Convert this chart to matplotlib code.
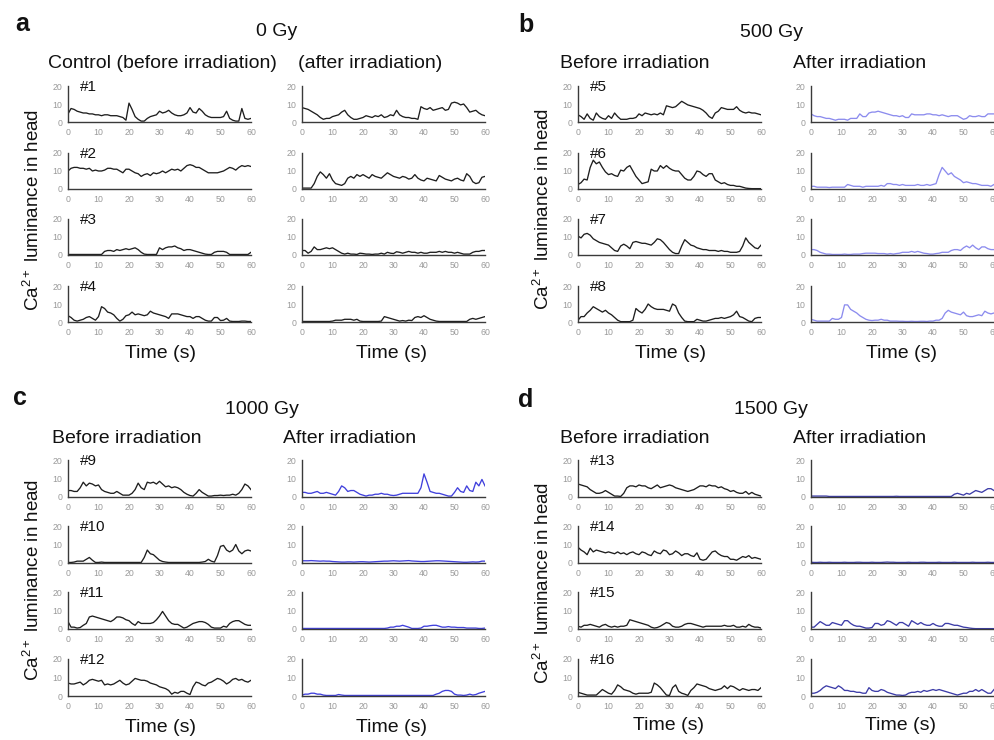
import matplotlib
matplotlib.use('Agg')
import matplotlib.pyplot as plt

plt.rcParams['font.family'] = ['Liberation Sans', 'DejaVu Sans']
plt.rcParams['mathtext.fontset'] = 'custom'
plt.rcParams['mathtext.rm'] = 'Liberation Sans'
plt.rcParams['mathtext.it'] = 'Liberation Sans:italic'
plt.rcParams['mathtext.default'] = 'regular'

# ---------------- data ----------------
time_s = list(range(61))
x_ticks = [0, 10, 20, 30, 40, 50, 60]
y_ticks = [0, 10, 20]

dose_titles = ['0 Gy', '500 Gy', '1000 Gy', '1500 Gy']
panel_letters = ['a', 'b', 'c', 'd']
before_titles = ['Control (before irradiation)', 'Before irradiation', 'Before irradiation', 'Before irradiation']
after_titles = ['(after irradiation)', 'After irradiation', 'After irradiation', 'After irradiation']
worm_ids = [['#1', '#2', '#3', '#4'], ['#5', '#6', '#7', '#8'],
            ['#9', '#10', '#11', '#12'], ['#13', '#14', '#15', '#16']]

n1_before = [4.5, 7.5, 7, 6, 5.5, 5, 5, 4.5, 4.5, 4,
             4, 3.5, 4, 4, 3.5, 3.5, 3.5, 3, 2.5, 1,
             10.5, 7, 3, 1.5, 0.5, 0.5, 2, 3, 3.5, 4,
             6, 5, 5.5, 6.5, 5, 4, 3.5, 3.5, 4, 5,
             8, 5.5, 5, 7.5, 6, 4, 3, 2.5, 2.5, 2.5,
             2.5, 3, 6, 2, 1, 0.5, 0.5, 7.5, 2, 1.5, 2]
n1_after = [8, 7.5, 7, 6, 5, 4, 2.5, 1.5, 2, 2,
            3, 3.5, 4, 5.5, 6.5, 4, 2.5, 1.5, 1.5, 2,
            2.5, 3.5, 3, 2.5, 3.5, 3, 4, 2.5, 3, 4,
            3.5, 6.5, 4, 3, 2.5, 2.5, 2, 2, 1.5, 8.5,
            7.5, 7, 8, 6.5, 7, 7.5, 8, 6.5, 7, 10.5,
            11, 10.5, 9.5, 10, 8, 5.5, 6, 6.5, 5, 4, 3.5]
n2_before = [10, 11.5, 12, 12, 11.5, 11.5, 11, 11.5, 10, 10.5,
             10, 10, 10.5, 11.5, 11.5, 11, 11, 10, 9, 11,
             11, 10, 9, 8.5, 7, 8, 8.5, 7.5, 9, 8.5,
             9, 10, 9, 10, 11, 10.5, 11, 10, 11.5, 13,
             13.5, 13, 12, 12, 11, 10, 9, 9, 9, 9,
             9.5, 10, 11, 12, 11.5, 10.5, 12, 13, 12.5, 13, 12.5]
n2_after = [0.5, 0.5, 0.5, 0.5, 3, 7, 9.5, 8, 6, 8.5,
            5, 3, 2.5, 2, 3, 6, 7, 6, 8, 7,
            8, 7, 6, 8, 7, 6.5, 6, 7.5, 9, 8,
            7, 6.5, 6, 7, 6.5, 5.5, 6, 8, 6, 5,
            4.5, 6, 5.5, 5, 4.5, 7.5, 6.5, 5.5, 5, 4.5,
            5.5, 6, 5, 4.5, 8.5, 7, 4, 3, 3.5, 6.5, 7]
n3_before = [0.3, 0.3, 0.3, 0.3, 0.3, 0.3, 0.3, 0.3, 0.3, 0.3,
             0.3, 0.3, 2, 2.5, 2.5, 2, 3, 2.5, 3, 3.5,
             3, 3.5, 4, 3, 1.5, 0.5, 0.3, 0.3, 0.3, 0.3,
             4, 3, 4, 4.5, 4.5, 5, 4, 3.5, 2.5, 3,
             3, 2.5, 2, 1.5, 1, 0.5, 0.3, 0.3, 1.5, 2,
             2, 2, 1.5, 0.3, 0.3, 0.3, 0.3, 0.3, 0.3, 0.3, 1.5]
n3_after = [2.5, 2.5, 1, 2, 4.5, 3, 3, 3.5, 4, 3.5,
            4, 3, 2, 1, 0.5, 1, 0.5, 0.5, 0.3, 1,
            0.8, 0.5, 0.5, 0.3, 0.5, 0.5, 1, 0.5, 1.5, 1,
            0.8, 1.8, 1.5, 1, 1.5, 2, 1.5, 1.5, 1, 1.5,
            1, 1, 1.5, 1.5, 1.5, 2, 1.5, 2, 1.5, 1.5,
            1, 1.5, 1, 0.5, 0.5, 0.5, 1.5, 2, 2, 2.5, 2.5]
n4_before = [3.5, 2.5, 1, 0.5, 1, 1.5, 2.5, 3, 2, 1,
             3, 8.5, 7.5, 5.5, 5, 4, 2, 0.5, 1.5, 3.5,
             4, 5.5, 4, 4.5, 4, 3.5, 4, 6, 5, 4.5,
             4, 3.5, 3, 2, 4.5, 4.5, 4.5, 4, 3.5, 3,
             3, 2, 3, 3, 2, 1, 0.5, 0.5, 2.5, 2.5,
             0.8, 1, 2, 0.5, 0.3, 0.3, 0.3, 0.5, 0.5, 0.3, 0.3]
n4_after = [0.3, 0.3, 0.3, 0.3, 0.3, 0.3, 0.3, 0.3, 0.3, 0.3,
            0.5, 1, 1, 1, 1.5, 1.5, 1.5, 1, 1.5, 0.5,
            0.3, 0.3, 0.3, 0.3, 0.3, 0.3, 0.5, 3, 2.5, 2,
            1.5, 1, 0.5, 0.8, 0.5, 1, 0.8, 2.5, 3, 2.5,
            3.5, 2.5, 1.5, 1, 0.5, 0.3, 0.3, 0.3, 0.3, 0.3,
            0.3, 0.3, 0.3, 0.3, 0.3, 1.5, 2, 1.5, 2, 2.5, 3]
n5_before = [4, 3, 1.5, 4.5, 2, 1, 5, 3, 2, 1.5,
             3.5, 2, 5, 3, 1.5, 1.5, 1.5, 2, 2, 2.5,
             4.5, 3.5, 5, 4.5, 4, 4.5, 4, 5, 4, 9,
             8.5, 8, 8.5, 10, 11.5, 10.5, 9.5, 9, 8.5, 8,
             7.5, 6.5, 5, 3, 2, 5, 6, 8, 7.5, 7,
             7, 7, 8.5, 6.5, 5.5, 5, 5.5, 5, 5, 4.5, 4]
n5_after = [4.5, 3.5, 3, 3, 2.5, 2, 2, 1.5, 1, 1.5,
            1.5, 1.5, 1, 2, 2, 2, 4.5, 3, 3, 5,
            5.5, 5.5, 6, 5.5, 5, 4.5, 4, 3.5, 3.5, 3,
            3.5, 2.5, 2.5, 4.5, 4, 4, 4, 4, 4.5, 4.5,
            4, 4, 3.5, 4, 3.5, 3, 3.5, 3.5, 3.5, 2.5,
            1.5, 2, 3.5, 3, 3, 3.5, 3, 3, 4.5, 4.5, 4.5]
n6_before = [2.5, 3.5, 5.5, 5, 12, 16, 14, 15, 12, 9.5,
             8, 8.5, 7.5, 7, 10.5, 10, 12, 13, 10, 7,
             5, 3, 3.5, 4, 11, 10, 10, 13, 11.5, 13,
             11.5, 10.5, 10, 10, 8, 6, 5, 5, 7, 10,
             9.5, 8, 7, 8.5, 8.5, 5, 4, 3, 3.5, 2.5,
             2, 2, 1.5, 1.5, 1, 0.5, 0.3, 0.2, 0.2, 0.2, 0.2]
n6_after = [1.5, 1.5, 1, 1, 1, 1, 0.8, 1, 1, 1,
            1, 1, 2.5, 2, 1.5, 1.5, 1.5, 1, 1.5, 1.5,
            1.5, 1.5, 1.5, 2, 1.5, 3, 3, 2.5, 2.5, 2,
            2.5, 2, 2, 2, 2, 2.5, 2, 2, 2.5, 2,
            2.5, 3, 8, 12, 10, 8, 9, 7, 6, 5,
            3.5, 4, 3.5, 3, 3, 2.5, 2, 2, 2, 1.5, 2.5]
n7_before = [10.5, 9.5, 11.5, 12, 11, 9, 8, 7, 6.5, 6,
             5.5, 4, 2.5, 2, 5, 6, 5, 3.5, 7, 7.5,
             7, 6.5, 6.5, 6, 5.5, 7, 9, 8.5, 7, 5,
             3, 1.5, 0.8, 0.8, 5, 8.5, 7, 5.5, 5, 4,
             3.5, 3, 3, 2.5, 2.5, 2.5, 2, 2.5, 2, 2,
             1.5, 1.5, 1.5, 2, 5, 9.5, 7, 5.5, 4, 3.5, 5.5]
n7_after = [3, 3, 2.5, 1.5, 1, 0.5, 0.5, 0.3, 0.3, 0.3,
            0.3, 0.5, 0.3, 0.3, 0.5, 0.5, 0.5, 0.8, 1, 1,
            1, 1, 0.8, 0.8, 0.8, 0.5, 0.8, 0.5, 0.8, 1,
            1.5, 1.5, 1.5, 2, 1.5, 2, 1.5, 1, 0.8, 0.5,
            0.5, 0.8, 1, 1.5, 1.5, 1.5, 2.5, 3, 3, 2.5,
            4, 5, 4, 5.5, 4, 3, 4.5, 4.5, 3.5, 3, 3]
n8_before = [1, 3, 3, 5, 6.5, 8.5, 7.5, 6.5, 5.5, 6.5,
             5, 4, 2.5, 1, 0.2, 0.2, 0.2, 0.2, 1, 7.5,
             6, 5, 7, 10, 8.5, 7.5, 7, 7, 7, 6.5,
             6, 10, 9, 5, 2.5, 0.5, 0.2, 0.2, 0.2, 1.5,
             1, 0.5, 0.5, 1, 1.5, 2, 2, 2.5, 2, 2.5,
             3, 4, 6, 3, 2.5, 1.5, 0.5, 0.2, 2, 2.5, 2.5]
n8_after = [1.5, 1, 0.5, 0.5, 0.5, 0.5, 0.5, 2, 1.5, 1.5,
            2.5, 9.5, 9.5, 7, 6, 5, 3.5, 2.5, 1.5, 1,
            0.8, 1, 1, 1.5, 1, 1, 0.5, 0.5, 0.5, 0.4,
            0.4, 0.3, 0.3, 0.4, 0.3, 0.3, 0.4, 0.4, 0.3, 0.5,
            0.5, 1, 1, 2, 5, 6.5, 5.5, 5, 4.5, 4,
            5.5, 3.5, 3, 3, 3.5, 4, 3.5, 6, 5, 4.5, 5]
n9_before = [3.5, 3.5, 3, 3, 5, 8, 6, 7.5, 7, 6,
             6.5, 4, 3, 2.5, 2, 2, 3, 2, 1, 1,
             1, 2, 4, 7.5, 5, 4, 8, 7.5, 8, 7,
             8.5, 7, 5.5, 6, 5, 5.5, 5, 4, 2.5, 1.5,
             0.8, 0.5, 2, 4, 2.5, 1.5, 0.5, 0.5, 0.8, 0.8,
             1, 0.8, 1, 1, 1.5, 1, 2, 4, 7, 6, 4]
n9_after = [2.5, 2.5, 2, 2, 2.5, 3, 2, 2, 2.5, 2,
            1.5, 1, 3, 6, 5, 3, 3.5, 3.5, 2.5, 1.5,
            1, 0.5, 1, 1, 1.5, 1.5, 2, 1.5, 1.5, 1,
            0.8, 1, 1.5, 2, 2, 2, 2, 2, 2, 5,
            12.5, 8, 3, 2.5, 2, 2, 1.5, 1, 0.5, 0.5,
            2.5, 5, 3, 2.5, 6, 3.5, 3, 8, 6, 9.5, 6]
n10_before = [0.3, 0.3, 0.5, 1, 1, 1, 2, 3, 1.5, 0.3,
              0.3, 0.5, 0.3, 0.3, 0.3, 0.3, 0.3, 0.3, 0.3, 0.3,
              0.3, 0.3, 0.3, 0.3, 0.3, 3, 7, 5, 4.5, 3,
              1.5, 0.8, 0.5, 0.3, 0.3, 0.3, 0.3, 0.3, 0.3, 0.3,
              0.3, 0.3, 0.3, 0.3, 0.5, 0.8, 2, 1, 0.5, 4,
              9, 9.5, 7, 6, 7, 10, 6.5, 5, 6.5, 7, 6.5]
n10_after = [1.2, 1.2, 1.2, 1.3, 1.2, 1.1, 1.0, 1.1, 1.0, 1.0,
             0.8, 0.7, 0.6, 0.5, 0.5, 0.6, 0.6, 0.5, 0.6, 0.7,
             0.7, 0.6, 0.5, 0.6, 0.7, 0.8, 0.9, 1.0, 1.0, 1.1,
             1.2, 1.1, 1.0, 1.1, 1.2, 1.3, 1.1, 1.0, 0.9, 0.8,
             0.8, 0.9, 1.0, 1.1, 1.2, 1.2, 1.1, 1.0, 0.9, 0.8,
             0.7, 0.6, 0.5, 0.4, 0.4, 0.5, 0.6, 0.5, 0.6, 1.0, 1.0]
n11_before = [4, 1, 1, 0.5, 0.8, 2, 3, 6.5, 7, 6.5,
              6, 5.5, 5, 4.5, 4, 5, 6.5, 6.5, 6, 5,
              4.5, 3, 2, 4, 3, 3, 3, 3, 3.5, 5,
              7, 9.5, 7, 4.5, 3, 2.5, 2.5, 1.5, 0.5, 1,
              2, 3, 3.5, 4, 4, 3.5, 2.5, 1, 0.5, 0.5,
              0.5, 1.5, 1, 3, 4, 4.5, 4.5, 3.5, 2.5, 2, 2]
n11_after = [0.3, 0.3, 0.3, 0.3, 0.3, 0.3, 0.3, 0.3, 0.3, 0.3,
             0.3, 0.3, 0.3, 0.3, 0.3, 0.3, 0.3, 0.3, 0.3, 0.3,
             0.3, 0.3, 0.3, 0.3, 0.3, 0.3, 0.3, 0.3, 0.5, 1,
             1, 1.5, 1.5, 2, 1.5, 1, 0.3, 0.3, 0.3, 0.5,
             1.5, 1.5, 1.8, 2, 2, 1.5, 1, 1, 1.3, 1,
             1, 0.8, 0.8, 0.8, 0.5, 0.5, 0.5, 0.5, 0.3, 0.3, 0.5]
n12_before = [7, 6.5, 6.5, 7, 7.5, 6, 7, 8.5, 9, 8.5,
              8, 8.5, 6, 6.5, 6, 6.5, 7.5, 8.5, 7, 6,
              6.5, 8, 9.5, 9, 8.5, 8.5, 8, 7, 6.5, 6,
              5, 4.5, 4, 3, 1, 2, 1.5, 2.5, 2.5, 1.5,
              0.8, 5, 7.5, 7, 6, 5.5, 7, 7.5, 8.5, 9.5,
              9, 8, 6.5, 7.5, 9, 9.5, 8.5, 9, 8, 7.5, 8.5]
n12_after = [0.5, 1, 1, 1.5, 1.5, 1, 1, 0.5, 0.3, 0.3,
             0.3, 0.3, 0.8, 0.5, 0.3, 0.3, 0.3, 0.3, 0.3, 0.3,
             0.3, 0.3, 0.3, 0.3, 0.3, 0.3, 0.3, 0.3, 0.3, 0.3,
             0.3, 0.3, 0.3, 0.3, 0.3, 0.3, 0.3, 0.3, 0.3, 0.3,
             0.3, 0.3, 0.3, 0.3, 1, 1.5, 2.5, 3, 3, 2.5,
             1, 0.5, 0.5, 0.3, 0.5, 1, 0.5, 0.8, 1.5, 2, 2.5]
n13_before = [7, 6.5, 6, 5.5, 4, 3, 2, 2, 2.5, 3.5,
              2.5, 1.5, 0.5, 0.5, 0.3, 2, 5, 6, 6, 5.5,
              6.5, 6, 6, 5, 4.5, 5.5, 6.5, 5, 5.5, 6,
              6.5, 6, 5, 4.5, 4, 3.5, 3, 3.5, 4, 5,
              6, 6, 5.5, 6.5, 6, 6, 5, 5.5, 4.5, 4,
              3, 3.5, 2.5, 2, 2, 3, 1.5, 2.5, 1.5, 1, 0.5]
n13_after = [0.5, 0.5, 0.5, 0.5, 0.5, 0.5, 0.3, 0.3, 0.3, 0.3,
             0.3, 0.3, 0.3, 0.3, 0.3, 0.3, 0.3, 0.3, 0.3, 0.3,
             0.3, 0.3, 0.3, 0.3, 0.3, 0.3, 0.3, 0.3, 0.4, 0.3,
             0.3, 0.3, 0.3, 0.3, 0.3, 0.3, 0.3, 0.3, 0.3, 0.3,
             0.3, 0.3, 0.3, 0.3, 0.3, 0.3, 0.3, 1.5, 2, 1.5,
             1, 2, 1.5, 2.5, 3.5, 3, 2.5, 3.5, 4.5, 4.5, 3.5]
n14_before = [8.5, 7, 6, 4.5, 8, 6, 7, 6.5, 6, 5.5,
              6, 5.5, 5, 6, 5, 5.5, 4.5, 5.5, 6, 5,
              4.5, 6, 5.5, 4.5, 4, 6.5, 5.5, 5, 7, 6.5,
              4.5, 5, 6.5, 5.5, 4, 5, 5, 4, 3.5, 5.5,
              2, 1.5, 2, 4, 6, 6.5, 5, 4, 3.5, 3.5,
              2, 2, 1.5, 2.5, 3.5, 3, 4, 2.5, 3, 2.5, 2]
n14_after = [0.4, 0.3, 0.3, 0.4, 0.3, 0.3, 0.4, 0.3, 0.3, 0.3,
             0.3, 0.4, 0.3, 0.3, 0.3, 0.4, 0.4, 0.3, 0.3, 0.3,
             0.4, 0.3, 0.3, 0.3, 0.4, 0.5, 0.4, 0.4, 0.3, 0.3,
             0.3, 0.3, 0.4, 0.3, 0.3, 0.3, 0.4, 0.4, 0.3, 0.3,
             0.3, 0.3, 0.4, 0.3, 0.3, 0.3, 0.3, 0.4, 0.3, 0.3,
             0.3, 0.3, 0.3, 0.4, 0.3, 0.3, 0.3, 0.3, 0.4, 0.3, 0.3]
n15_before = [1.5, 1, 2, 2, 2.5, 2, 1.5, 1, 2, 2.5,
              1.5, 1, 1.5, 1, 1.5, 1.5, 2, 5, 4.5, 4,
              3.5, 3, 2.5, 2, 1, 0.5, 0.8, 1.5, 2.5, 3.5,
              3, 1.5, 1, 1, 1.5, 2.5, 3, 3, 2.5, 2,
              1.5, 1, 1.5, 1.5, 1.5, 1.5, 1.5, 1.5, 2, 1.5,
              1.5, 2, 1, 1, 1.5, 1, 2.5, 1.5, 1, 1, 0.5]
n15_after = [1, 1, 2.5, 4, 3, 2, 2, 3.5, 3, 2.5,
             2, 4.5, 4.5, 3, 2, 1.5, 1.5, 1, 0.5, 0.5,
             0.8, 3, 3, 2, 2.5, 4.5, 4, 3, 2, 3.5,
             3.5, 2.5, 1.5, 4.5, 3.5, 2.5, 3.5, 2.5, 2, 2,
             3, 2, 1.5, 1.5, 3, 3, 2.5, 2, 2, 1.5,
             1, 0.8, 0.5, 0.3, 0.2, 0.2, 0.2, 0.2, 0.2, 0.2, 0.2]
n16_before = [2, 1.5, 1, 0.5, 0.5, 0.5, 0.5, 2, 3.5, 2.5,
              1.5, 1, 3, 6, 5, 3.5, 3, 2.5, 1.5, 1,
              1.5, 1.5, 1.5, 1.5, 2, 7, 6, 4.5, 2.5, 0.5,
              0.3, 4.5, 6, 2.5, 1.5, 1, 0.3, 3, 4.5, 6.5,
              6, 5.5, 5, 4, 3.5, 3, 3.5, 4, 5.5, 4,
              5.5, 5, 4, 3, 4, 3.5, 3, 3.5, 3.5, 3, 4.5]
n16_after = [1.5, 1.5, 2, 3, 4.5, 5.5, 5, 4.5, 4, 5.5,
             4.5, 3, 3, 2.5, 2.5, 2, 2, 1.5, 1.5, 4.5,
             3, 2.5, 2.5, 3.5, 3, 2, 1.5, 1, 0.5, 0.5,
             0.3, 0.5, 1.5, 2, 2, 2.5, 2, 3, 2.5, 3,
             3.5, 3, 3.5, 3, 2.5, 2, 1.5, 1, 0.5, 1,
             1.5, 1.5, 2.5, 2.5, 3.5, 2.5, 3.5, 2.5, 1.5, 1.5, 3.5]

before_series = [[n1_before, n2_before, n3_before, n4_before],
                 [n5_before, n6_before, n7_before, n8_before],
                 [n9_before, n10_before, n11_before, n12_before],
                 [n13_before, n14_before, n15_before, n16_before]]
after_series = [[n1_after, n2_after, n3_after, n4_after],
                [n5_after, n6_after, n7_after, n8_after],
                [n9_after, n10_after, n11_after, n12_after],
                [n13_after, n14_after, n15_after, n16_after]]

# ---------------- style / layout ----------------
W, H = 995, 740
fig = plt.figure(figsize=(W / 100, H / 100), dpi=100)

before_color = '#1e1e1e'
after_colors = ['#1e1e1e', '#8c8cee', '#4040dc', '#3c3ca8']
spine_color = '#3a3a3a'
tick_color = '#9a9a9a'

col_left = [[68, 302], [578, 811], [68, 302], [578, 811]]
row_tops = [[86, 153, 219, 286], [86, 153, 219, 286],
            [460, 526, 592, 659], [460, 526, 592, 659]]
ax_w = 183
ax_h = [36, 36, 37, 37]

letter_pos = [(15, 31), (518, 32), (13, 405), (518, 407)]
dose_pos = [(277, 36), (772, 37), (262, 414), (771, 414)]
before_title_pos = [(48, 68), (560, 68), (52, 443), (560, 443)]
after_title_pos = [(298, 68), (793, 68), (283, 443), (793, 443)]
time_pos = [[(161, 354), (392, 354)], [(671, 353), (902, 353)],
            [(161, 728), (392, 728)], [(669, 726), (901, 726)]]
ylabel_pos = [(33, 210), (543, 209), (33, 580), (543, 583)]


def add_px_axes(left, top, width, height):
    return fig.add_axes([left / W, 1 - (top + height) / H, width / W, height / H])


def fig_text(x, y, s, **kw):
    fig.text(x / W, 1 - y / H, s, **kw)


def style_ax(ax):
    ax.set_xlim(0, 60)
    ax.set_ylim(0, 20)
    ax.set_xticks(x_ticks)
    ax.set_yticks(y_ticks)
    for side in ('top', 'right'):
        ax.spines[side].set_visible(False)
    for side in ('left', 'bottom'):
        ax.spines[side].set_color(spine_color)
        ax.spines[side].set_linewidth(1.0)
    ax.tick_params(length=0, pad=4.0, labelsize=6.3, labelcolor=tick_color)
    ax.patch.set_alpha(0)


for p in range(4):
    for r in range(4):
        top = row_tops[p][r]
        # before column
        ax = add_px_axes(col_left[p][0], top, ax_w, ax_h[p])
        style_ax(ax)
        ax.plot(time_s, before_series[p][r], color=before_color, lw=0.95)
        fig_text(col_left[p][0] + 12, top + 1, worm_ids[p][r], fontsize=11,
                 ha='left', va='center', color='#111111')
        # after column
        ax2 = add_px_axes(col_left[p][1], top, ax_w, ax_h[p])
        style_ax(ax2)
        ax2.plot(time_s, after_series[p][r], color=after_colors[p], lw=0.95)

    lx, ly = letter_pos[p]
    fig_text(lx, ly, panel_letters[p], fontsize=18, fontweight='bold',
             ha='left', va='baseline', color='#111111')
    dx, dy = dose_pos[p]
    fig_text(dx, dy, dose_titles[p], fontsize=14, ha='center', va='baseline', color='#111111')
    bx, by = before_title_pos[p]
    fig_text(bx, by, before_titles[p], fontsize=14, ha='left', va='baseline', color='#111111')
    ax_, ay_ = after_title_pos[p]
    fig_text(ax_, ay_, after_titles[p], fontsize=14, ha='left', va='baseline', color='#111111')
    for tx, ty in time_pos[p]:
        fig_text(tx, ty, 'Time (s)', fontsize=14, ha='center', va='center', color='#111111')
    yx, yy = ylabel_pos[p]
    fig_text(yx, yy, r'Ca$^{2+}$ luminance in head', fontsize=13.5, rotation=90,
             ha='center', va='center', color='#111111')

fig.savefig('out.png', dpi=100)
